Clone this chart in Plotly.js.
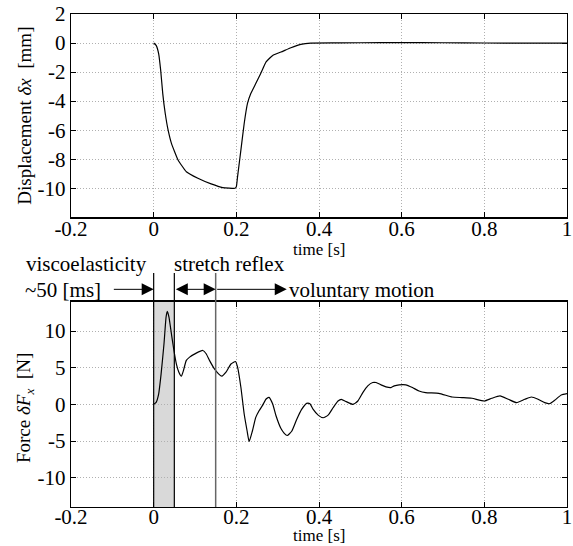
<!DOCTYPE html>
<html>
<head>
<meta charset="utf-8">
<script src="https://cdn.plot.ly/plotly-3.0.1.min.js"></script>
<style>html,body{margin:0;padding:0;background:#fff;}</style>
</head>
<body>
<div id="chart" style="width:573px;height:546px;"></div>
<script>
// Displacement data
const timeDisp = [0, 0.006, 0.012, 0.017, 0.022, 0.028, 0.035, 0.043, 0.059, 0.079, 0.107, 0.139, 0.167, 0.197, 0.2, 0.203, 0.211, 0.219, 0.227, 0.235, 0.247, 0.259, 0.272, 0.288, 0.308, 0.332, 0.356, 0.38, 0.45, 0.55, 0.65, 0.75, 0.85, 1.0];
const disp = [0, -0.16, -0.73, -1.88, -3.48, -4.85, -6.0, -6.91, -8.05, -8.86, -9.31, -9.7, -9.95, -10, -9.9, -9.2, -7.37, -5.54, -4.16, -3.48, -2.79, -2.1, -1.3, -0.85, -0.62, -0.32, -0.09, 0, 0.01, 0.03, 0.03, 0.01, 0, 0];

// Force data
const timeForce = [0, 0.006, 0.012, 0.018, 0.025, 0.030, 0.033, 0.037, 0.043, 0.049, 0.055, 0.061, 0.067, 0.072, 0.079, 0.087, 0.103, 0.119, 0.127, 0.135, 0.147, 0.157, 0.165, 0.175, 0.187, 0.198, 0.203, 0.211, 0.219, 0.226, 0.231, 0.239, 0.247, 0.255, 0.263, 0.272, 0.279, 0.288, 0.296, 0.308, 0.316, 0.323, 0.334, 0.346, 0.358, 0.370, 0.378, 0.386, 0.398, 0.410, 0.422, 0.434, 0.446, 0.454, 0.466, 0.482, 0.494, 0.506, 0.518, 0.530, 0.538, 0.550, 0.562, 0.574, 0.582, 0.594, 0.610, 0.626, 0.642, 0.658, 0.690, 0.722, 0.746, 0.770, 0.800, 0.818, 0.838, 0.858, 0.878, 0.898, 0.914, 0.930, 0.946, 0.958, 0.970, 0.986, 1.0];
const force = [0, 0.27, 1.4, 4.15, 8.26, 11.9, 12.7, 11.9, 9.6, 7.35, 5.5, 4.38, 3.84, 4.6, 6.0, 6.44, 6.99, 7.35, 6.9, 6.0, 4.84, 4.16, 3.84, 4.38, 5.5, 5.84, 5.07, 2.33, -1.32, -3.6, -5.07, -3.6, -1.78, -0.87, -0.18, 0.73, 0.96, 0.05, -1.55, -3.3, -3.95, -4.25, -3.67, -2.06, -0.69, 0.14, 0.09, -0.69, -1.47, -1.83, -1.47, -0.46, 0.46, 0.69, 0.37, 0, 0.46, 1.6, 2.52, 2.98, 2.98, 2.66, 2.39, 2.29, 2.52, 2.66, 2.66, 2.29, 1.83, 1.6, 1.51, 1.0, 0.92, 0.83, 0.46, 0.83, 1.15, 0.69, 0.23, 0.69, 1.0, 0.69, 0.23, 0.09, 0.55, 1.28, 1.47];

// Ticks
const xTickVals = [-0.2, 0, 0.2, 0.4, 0.6, 0.8, 1];
const xTickText = ['-0.2', '0', '0.2', '0.4', '0.6', '0.8', '1'];
const yDispTickVals = [-10, -8, -6, -4, -2, 0, 2];
const yDispTickText = ['-10', '-8', '-6', '-4', '-2', '0', '2'];
const yForceTickVals = [-10, -5, 0, 5, 10];
const yForceTickText = ['-10', '-5', '0', '5', '10'];

// Phase boundaries (s)
const phaseBounds = [0, 0.05, 0.15];

const FONT = '"Liberation Serif", serif';

function axisBase() {
  return {
    showline: true, linecolor: '#000', linewidth: 1.3, mirror: 'ticks',
    ticks: 'inside', ticklen: 5, tickwidth: 1, tickcolor: '#000',
    showgrid: true, gridcolor: '#b0b0b0', griddash: '1px,2px', gridwidth: 1,
    zeroline: false,
    tickfont: {family: FONT, size: 21, color: '#000'}
  };
}

const traces = [
  {x: timeDisp, y: disp, xaxis: 'x', yaxis: 'y', mode: 'lines', type: 'scatter',
   line: {color: '#000', width: 1.2, shape: 'spline', smoothing: 0.4}, hoverinfo: 'skip'},
  {x: timeForce, y: force, xaxis: 'x2', yaxis: 'y2', mode: 'lines', type: 'scatter',
   line: {color: '#000', width: 1.2, shape: 'spline', smoothing: 0.5}, hoverinfo: 'skip'}
];

const txt = (text, x, y, xanchor, yanchor, size, extra) => Object.assign({
  text: text, xref: 'paper', yref: 'paper', x: x, y: y, xanchor: xanchor, yanchor: yanchor,
  showarrow: false, borderpad: 0, font: {family: FONT, size: size, color: '#000'}
}, extra || {});

const layout = {
  width: 573, height: 546,
  margin: {l: 71, r: 6, t: 14, b: 39},
  paper_bgcolor: '#fff', plot_bgcolor: '#fff',
  showlegend: false,
  font: {family: FONT, color: '#000'},
  xaxis: Object.assign(axisBase(), {
    domain: [0, 1], anchor: 'y', range: [-0.2, 1], tickvals: xTickVals, ticktext: xTickText, ticklabelstandoff: -8
  }),
  yaxis: Object.assign(axisBase(), {
    domain: [0.5876, 1], anchor: 'x', range: [-12, 2], tickvals: yDispTickVals, ticktext: yDispTickText
  }),
  xaxis2: Object.assign(axisBase(), {
    domain: [0, 1], anchor: 'y2', range: [-0.2, 1], tickvals: xTickVals, ticktext: xTickText, ticklabelstandoff: -10
  }),
  yaxis2: Object.assign(axisBase(), {
    domain: [0, 0.4164], anchor: 'x2', range: [-14, 14], tickvals: yForceTickVals, ticktext: yForceTickText
  }),
  shapes: [
    {type: 'rect', xref: 'x2', yref: 'paper', x0: phaseBounds[0], x1: phaseBounds[1], y0: 0, y1: 0.4164,
     fillcolor: '#d9d9d9', line: {width: 0}, layer: 'below'},
    {type: 'line', xref: 'x2', yref: 'paper', x0: phaseBounds[0], x1: phaseBounds[0], y0: 0, y1: 0.4746,
     line: {color: '#000', width: 1.2}},
    {type: 'line', xref: 'x2', yref: 'paper', x0: phaseBounds[1], x1: phaseBounds[1], y0: 0, y1: 0.4746,
     line: {color: '#000', width: 1.2}},
    {type: 'line', xref: 'x2', yref: 'paper', x0: phaseBounds[2], x1: phaseBounds[2], y0: 0, y1: 0.4746,
     line: {color: '#666', width: 1.5}}
  ],
  annotations: [
    // axis titles
    txt('time [s]', 0.5, 0.5233, 'center', 'middle', 17),
    txt('time [s]', 0.5, -0.0791, 'center', 'bottom', 17),
    txt('Displacement <i>δx</i>  [mm]', -0.0927, 0.7937, 'center', 'middle', 19, {textangle: -90}),
    txt('Force <i>δF</i><sub><i>x</i></sub>  [N]', -0.0927, 0.2008, 'center', 'middle', 19, {textangle: -90}),
    // phase labels
    {text: 'viscoelasticity', xref: 'x2', yref: 'paper', x: -0.012, y: 0.4929, xanchor: 'right', yanchor: 'middle',
     showarrow: false, font: {family: FONT, size: 21}},
    {text: 'stretch reflex', xref: 'x2', yref: 'paper', x: 0.183, y: 0.4929, xanchor: 'center', yanchor: 'middle',
     showarrow: false, font: {family: FONT, size: 21}},
    {text: '~50 [ms]', xref: 'x2', yref: 'paper', x: -0.122, y: 0.440, xanchor: 'right', yanchor: 'middle',
     showarrow: false, font: {family: FONT, size: 21}},
    {text: 'voluntary motion', xref: 'x2', yref: 'paper', x: 0.323, y: 0.440, xanchor: 'left', yanchor: 'middle',
     showarrow: false, font: {family: FONT, size: 21}},
    // arrows
    {text: '', xref: 'x2', yref: 'paper', x: 0, y: 0.4415, axref: 'x2', ayref: 'pixel', ax: -0.1, ay: 0,
     showarrow: true, arrowhead: 2, arrowsize: 2.4, arrowwidth: 1, arrowcolor: '#000', standoff: 0, startstandoff: 0},
    {text: '', xref: 'x2', yref: 'paper', x: 0.15, y: 0.4415, axref: 'x2', ayref: 'pixel', ax: 0.05, ay: 0,
     showarrow: true, arrowhead: 2, startarrowhead: 2, arrowside: 'end+start', arrowsize: 2.4, startarrowsize: 2.4,
     arrowwidth: 1, arrowcolor: '#000', standoff: 0, startstandoff: 0},
    {text: '', xref: 'x2', yref: 'paper', x: 0.322, y: 0.4415, axref: 'x2', ayref: 'pixel', ax: 0.15, ay: 0,
     showarrow: true, arrowhead: 2, arrowsize: 2.4, arrowwidth: 1, arrowcolor: '#000', standoff: 0, startstandoff: 0}
  ]
};

Plotly.newPlot('chart', traces, layout, {staticPlot: true, displayModeBar: false});
</script>
</body>
</html>
